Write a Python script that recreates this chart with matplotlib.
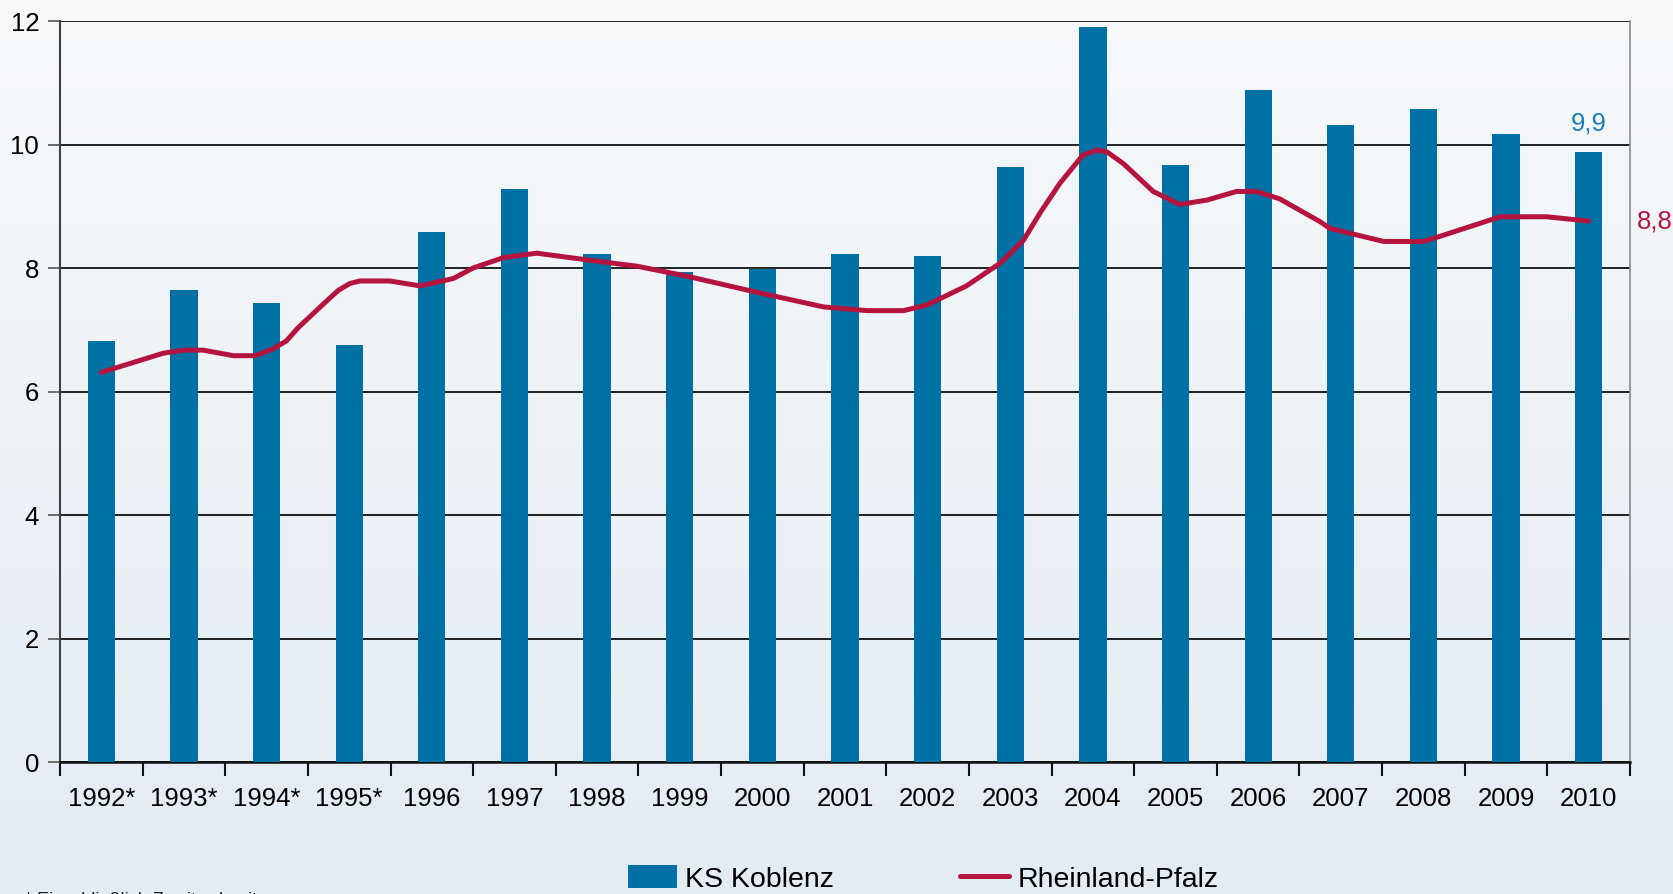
import matplotlib
matplotlib.use("Agg")
import matplotlib.pyplot as plt
import numpy as np
from matplotlib.colors import LinearSegmentedColormap
from matplotlib.ticker import FixedLocator, NullFormatter

plt.rcParams['font.family'] = ['Liberation Sans', 'DejaVu Sans']

# ---- data ----
years = ["1992*", "1993*", "1994*", "1995*", "1996", "1997", "1998", "1999",
         "2000", "2001", "2002", "2003", "2004", "2005", "2006", "2007",
         "2008", "2009", "2010"]
koblenz = [6.82, 7.65, 7.43, 6.75, 8.59, 9.28, 8.23, 7.94, 7.98, 8.23,
           8.19, 9.64, 11.90, 9.67, 10.89, 10.32, 10.58, 10.17, 9.88]

# Rheinland-Pfalz line (position in category units)
rlp_pos = [0.0, 0.75, 1.0, 1.23, 1.60, 1.86, 2.08, 2.24, 2.38, 2.61, 2.73,
           2.87, 3.01, 3.13, 3.49, 3.86, 4.26, 4.50, 4.87, 5.27, 6.00, 6.48,
           7.08, 7.89, 8.74, 9.26, 9.71, 9.99, 10.47, 10.88, 11.16, 11.36,
           11.60, 11.88, 12.05, 12.17, 12.37, 12.73, 13.05, 13.38, 13.74,
           13.98, 14.26, 14.75, 14.87, 15.52, 16.00, 16.24, 16.93, 17.49, 18.0]
rlp_val = [6.31, 6.62, 6.67, 6.67, 6.58, 6.58, 6.69, 6.82, 7.03, 7.32, 7.47,
           7.64, 7.75, 7.79, 7.79, 7.71, 7.83, 8.00, 8.17, 8.24, 8.11, 8.03,
           7.87, 7.62, 7.37, 7.31, 7.31, 7.40, 7.71, 8.08, 8.45, 8.89,
           9.37, 9.83, 9.91, 9.88, 9.69, 9.24, 9.03, 9.10, 9.24,
           9.24, 9.12, 8.75, 8.64, 8.43, 8.43, 8.53, 8.83, 8.83, 8.76]

label_kob = "9,9"
label_rlp = "8,8"
legend_labels = ["KS Koblenz", "Rheinland-Pfalz"]
footnote = "* Einschließlich Zweitwohnsitze"

BAR = "#0071A4"
LINE = "#B5143F"

fig = plt.figure(figsize=(16.74, 8.94), dpi=100)

# background gradient
bg = fig.add_axes([0, 0, 1, 1], zorder=-10)
cmap = LinearSegmentedColormap.from_list("bg", ["#E3EBF3", "#F7F9FB"])
grad = np.linspace(0, 1, 256).reshape(-1, 1)
bg.imshow(grad, aspect='auto', cmap=cmap, origin='lower', extent=[0, 1, 0, 1])
bg.axis('off')

ax = fig.add_axes([0.03584, 0.14765, 0.93786, 0.82885], zorder=1)
ax.set_facecolor('none')

x = np.arange(len(years))
bars = ax.bar(x, koblenz, width=0.33, color=BAR, zorder=3)
line, = ax.plot(rlp_pos, rlp_val, color=LINE, lw=3.6, zorder=4,
                solid_capstyle='round', solid_joinstyle='round')

ax.set_xlim(-0.5, len(years) - 0.5)
ax.set_ylim(0, 12)

# grid
ax.set_yticks(np.arange(0, 13, 2))
ax.set_yticklabels([str(v) for v in range(0, 13, 2)], fontsize=18.5)
ax.yaxis.grid(True, color='#111111', lw=1.3, zorder=1)
ax.tick_params(axis='y', length=9, width=1.2, color='#555555', pad=6)

ax.set_xticks(x)
ax.set_xticklabels(years, fontsize=18.5)
ax.tick_params(axis='x', which='major', length=0, pad=18)
ax.xaxis.set_minor_locator(FixedLocator(np.arange(-0.5, len(years), 1.0)))
ax.xaxis.set_minor_formatter(NullFormatter())
ax.tick_params(axis='x', which='minor', length=10, width=1.5, color='#111111')

ax.spines['top'].set_visible(False)
ax.spines['left'].set_color('#404040')
ax.spines['left'].set_linewidth(1.5)
ax.spines['bottom'].set_color('#111111')
ax.spines['bottom'].set_linewidth(1.8)
ax.spines['right'].set_color('#8a8a8a')
ax.spines['right'].set_linewidth(1.2)
ax.set_axisbelow(True)

# value labels
ax.annotate(label_kob, xy=(x[-1], koblenz[-1]), xytext=(0, 12),
            textcoords='offset points', ha='center', va='bottom',
            fontsize=18.5, color='#1A7DB5')
ax.annotate(label_rlp, xy=(1.0, rlp_val[-1]), xycoords=('axes fraction', 'data'),
            xytext=(5, 0), textcoords='offset points', ha='left', va='center',
            fontsize=18.5, color=LINE, annotation_clip=False)

# legend
leg = fig.legend([bars, line], legend_labels, loc='center',
                 bbox_to_anchor=(0.5514, 0.0168), ncol=2, frameon=False,
                 handlelength=1.75, handleheight=0.85, handletextpad=0.28,
                 columnspacing=4.4, borderpad=0, fontsize=20.5)

fig.text(0.015, -0.0119, footnote, fontsize=13, va='baseline', ha='left',
         color='#222222')

fig.savefig("out.png", dpi=100)
